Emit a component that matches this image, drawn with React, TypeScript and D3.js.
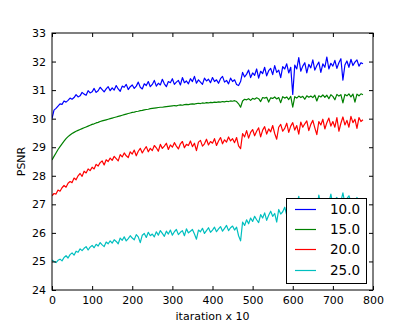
import React, { useEffect, useRef } from 'react';
import * as d3 from 'd3';

// one value every 5 iterations (x10), 0 .. 775
const iterStep = 5;

const psnr10 = [
  30.00, 30.30, 30.36, 30.44, 30.52, 30.50, 30.62, 30.58, 30.64, 30.72,
  30.68, 30.74, 30.84, 30.76, 30.80, 30.92, 30.86, 30.82, 30.98, 30.90,
  30.94, 31.06, 30.92, 30.98, 31.10, 31.02, 30.94, 31.04, 31.12, 30.98,
  31.08, 31.00, 31.16, 31.04, 30.96, 31.14, 31.10, 31.20, 31.02, 31.12,
  31.18, 31.06, 31.14, 31.28, 31.10, 31.04, 31.22, 31.16, 31.30, 31.12,
  31.20, 31.34, 31.14, 31.24, 31.18, 31.38, 31.22, 31.12, 31.30, 31.26,
  31.40, 31.20, 31.28, 31.34, 31.18, 31.44, 31.26, 31.32, 31.22, 31.40,
  31.30, 31.48, 31.24, 31.36, 31.28, 31.20, 31.42, 31.32, 31.38, 31.26,
  31.44, 31.30, 31.36, 31.24, 31.40, 31.48, 31.28, 31.34, 31.22, 31.42,
  31.30, 31.36, 31.20, 31.16, 31.30, 31.62, 31.46, 31.56, 31.70, 31.44,
  31.60, 31.52, 31.74, 31.42, 31.66, 31.58, 31.80, 31.50, 31.68, 31.76,
  31.54, 31.86, 31.62, 31.70, 31.44, 31.82, 31.74, 31.92, 31.60, 31.80,
  30.85, 31.88, 31.74, 32.14, 31.66, 31.84, 31.96, 31.60, 31.90, 31.78,
  32.06, 31.70, 31.86, 31.98, 31.62, 31.92, 31.80, 32.16, 31.74, 31.94,
  31.84, 32.04, 31.76, 31.96, 32.10, 31.35, 31.88, 32.02, 31.80, 32.08,
  31.86, 31.98, 32.06, 31.84, 31.96, 31.92,
];

const psnr15 = [
  28.55, 28.68, 28.80, 28.92, 29.02, 29.12, 29.21, 29.30, 29.37, 29.43,
  29.48, 29.52, 29.56, 29.59, 29.62, 29.65, 29.68, 29.71, 29.74, 29.77,
  29.80, 29.82, 29.85, 29.87, 29.90, 29.92, 29.94, 29.96, 29.98, 30.00,
  30.02, 30.04, 30.06, 30.08, 30.10, 30.12, 30.14, 30.16, 30.18, 30.20,
  30.22, 30.23, 30.25, 30.26, 30.28, 30.29, 30.31, 30.32, 30.33, 30.35,
  30.36, 30.37, 30.38, 30.39, 30.40, 30.40, 30.41, 30.42, 30.43, 30.44,
  30.45, 30.46, 30.45, 30.47, 30.48, 30.47, 30.49, 30.50, 30.49, 30.51,
  30.52, 30.51, 30.53, 30.54, 30.53, 30.55, 30.54, 30.56, 30.55, 30.57,
  30.56, 30.58, 30.57, 30.59, 30.58, 30.60, 30.59, 30.61, 30.60, 30.62,
  30.61, 30.63, 30.60, 30.52, 30.40, 30.62, 30.68, 30.66, 30.70, 30.64,
  30.71, 30.68, 30.73, 30.70, 30.60, 30.74, 30.72, 30.75, 30.58, 30.73,
  30.71, 30.76, 30.69, 30.74, 30.56, 30.77, 30.72, 30.76, 30.67, 30.78,
  30.40, 30.77, 30.72, 30.79, 30.74, 30.78, 30.68, 30.80, 30.75, 30.79,
  30.74, 30.82, 30.62, 30.80, 30.76, 30.83, 30.75, 30.82, 30.70, 30.84,
  30.78, 30.66, 30.85, 30.79, 30.84, 30.55, 30.85, 30.80, 30.87, 30.76,
  30.86, 30.58, 30.86, 30.80, 30.87, 30.84,
];

const psnr20 = [
  27.30, 27.38, 27.36, 27.50, 27.46, 27.58, 27.66, 27.60, 27.74, 27.80,
  27.76, 27.92, 27.86, 28.00, 28.08, 27.98, 28.16, 28.10, 28.24, 28.18,
  28.30, 28.24, 28.40, 28.34, 28.46, 28.52, 28.38, 28.56, 28.50, 28.62,
  28.54, 28.68, 28.60, 28.52, 28.74, 28.66, 28.80, 28.70, 28.64, 28.84,
  28.76, 28.90, 28.70, 28.86, 28.96, 28.80, 28.92, 29.02, 28.84, 28.96,
  28.88, 29.06, 28.98, 28.86, 29.10, 28.96, 29.04, 29.14, 28.92, 29.08,
  29.00, 29.16, 29.04, 28.94, 29.12, 29.20, 28.98, 29.10, 29.06, 29.22,
  29.02, 29.14, 28.88, 29.18, 29.24, 29.04, 29.12, 29.28, 29.08, 29.20,
  29.14, 29.30, 29.06, 29.22, 29.34, 29.12, 29.26, 29.18, 29.36, 29.22,
  29.30, 29.16, 29.34, 29.05, 28.95, 29.48, 29.36, 29.58, 29.32, 29.52,
  29.62, 29.40, 29.56, 29.68, 29.36, 29.60, 29.72, 29.46, 29.64, 29.54,
  29.76, 29.48, 29.28, 29.70, 29.80, 29.56, 29.66, 29.84, 29.52, 29.74,
  29.86, 29.60, 29.76, 29.46, 29.88, 29.70, 29.82, 29.92, 29.58, 29.80,
  29.94, 29.68, 29.44, 29.90, 29.78, 29.98, 29.64, 29.86, 30.02, 29.74,
  29.90, 29.70, 30.04, 29.56, 29.84, 30.06, 29.78, 29.94, 29.70, 30.08,
  29.86, 29.98, 29.66, 30.04, 29.90, 29.96,
];

const psnr25 = [
  25.05, 25.00, 24.96, 25.04, 25.08, 25.02, 25.14, 25.20, 25.12, 25.24,
  25.30, 25.22, 25.36, 25.32, 25.44, 25.38, 25.46, 25.52, 25.40, 25.50,
  25.56, 25.48, 25.60, 25.54, 25.66, 25.58, 25.52, 25.68, 25.62, 25.72,
  25.64, 25.76, 25.70, 25.62, 25.82, 25.74, 25.86, 25.72, 25.80, 25.90,
  25.82, 25.76, 25.94, 25.86, 25.66, 25.92, 25.98, 25.84, 26.02, 25.90,
  25.96, 25.86, 26.04, 25.92, 26.08, 25.98, 25.88, 26.06, 25.96, 26.10,
  25.92, 26.04, 26.12, 25.94, 26.02, 26.08, 25.90, 26.14, 26.00, 26.06,
  26.12, 25.96, 25.78, 26.10, 26.04, 26.16, 25.98, 26.08, 26.18, 26.02,
  26.10, 26.20, 26.04, 26.14, 26.22, 26.06, 26.16, 26.26, 26.08, 26.18,
  26.24, 26.10, 26.20, 25.90, 25.72, 26.38, 26.26, 26.46, 26.32, 26.52,
  26.40, 26.58, 26.46, 26.36, 26.64, 26.52, 26.70, 26.44, 26.62, 26.76,
  26.58, 26.68, 26.38, 26.82, 26.66, 26.74, 26.90, 26.62, 26.84, 26.96,
  26.72, 26.88, 27.00, 27.28, 26.80, 26.94, 27.06, 26.78, 27.12, 26.90,
  27.02, 27.14, 26.86, 27.32, 26.98, 27.10, 27.20, 26.90, 27.06, 27.36,
  26.96, 27.16, 27.24, 26.94, 27.10, 27.40, 27.02, 27.20, 27.30, 27.08,
  27.18, 27.04, 27.24, 27.12, 27.06, 27.10,
];

const seriesNames = ['10.0', '15.0', '20.0', '25.0'];
const seriesColors = ['#0000ff', '#008000', '#ff0000', '#00bfbf'];
const xTicks = [0, 100, 200, 300, 400, 500, 600, 700, 800];
const yTicks = [24, 25, 26, 27, 28, 29, 30, 31, 32, 33];

export default function App() {
  const ref = useRef<SVGSVGElement>(null);

  useEffect(() => {
    const svg = d3.select(ref.current);
    svg.selectAll('*').remove();

    const left = 52, top = 33, right = 373, bottom = 290;
    const font = '"DejaVu Sans", sans-serif';

    const x = d3.scaleLinear().domain([0, 800]).range([left, right]);
    const y = d3.scaleLinear().domain([24, 33]).range([bottom, top]);

    svg.append('defs').append('clipPath').attr('id', 'plot-clip')
      .append('rect')
      .attr('x', left).attr('y', top)
      .attr('width', right - left).attr('height', bottom - top);

    const allSeries = [psnr10, psnr15, psnr20, psnr25];
    const line = d3.line<number>()
      .x((d, i) => x(i * iterStep))
      .y((d) => y(d));

    const lines = svg.append('g').attr('clip-path', 'url(#plot-clip)');
    allSeries.forEach((s, k) => {
      lines.append('path')
        .datum(s)
        .attr('d', line)
        .attr('fill', 'none')
        .attr('stroke', seriesColors[k])
        .attr('stroke-width', 1.2)
        .attr('stroke-linejoin', 'round');
    });

    // ticks point inward on all four sides, matplotlib classic style
    const styleAxis = (g: any) => {
      g.select('.domain').remove();
      g.selectAll('line').attr('stroke', '#000');
      g.selectAll('text').attr('font-family', font).attr('font-size', 11).attr('fill', '#000');
    };

    svg.append('g')
      .attr('transform', `translate(0,${bottom})`)
      .call(d3.axisBottom(x).tickValues(xTicks).tickSize(-4).tickPadding(6))
      .call(styleAxis);
    svg.append('g')
      .attr('transform', `translate(0,${top})`)
      .call(d3.axisTop(x).tickValues(xTicks).tickSize(-4).tickFormat(() => ''))
      .call(styleAxis);
    svg.append('g')
      .attr('transform', `translate(${left},0)`)
      .call(d3.axisLeft(y).tickValues(yTicks).tickSize(-4).tickPadding(6))
      .call(styleAxis);
    svg.append('g')
      .attr('transform', `translate(${right},0)`)
      .call(d3.axisRight(y).tickValues(yTicks).tickSize(-4).tickFormat(() => ''))
      .call(styleAxis);

    svg.append('rect')
      .attr('x', left).attr('y', top)
      .attr('width', right - left).attr('height', bottom - top)
      .attr('fill', 'none').attr('stroke', '#000').attr('stroke-width', 1);

    svg.append('text')
      .attr('x', (left + right) / 2).attr('y', 320)
      .attr('text-anchor', 'middle')
      .attr('font-family', font).attr('font-size', 11)
      .text('itaration x 10');

    svg.append('text')
      .attr('transform', `translate(25,${(top + bottom) / 2}) rotate(-90)`)
      .attr('text-anchor', 'middle')
      .attr('font-family', font).attr('font-size', 11)
      .text('PSNR');

    // legend, lower right
    const legend = svg.append('g');
    legend.append('rect')
      .attr('x', 286.5).attr('y', 198.5)
      .attr('width', 80).attr('height', 85)
      .attr('fill', '#fff').attr('stroke', '#000').attr('stroke-width', 1);
    seriesNames.forEach((name, k) => {
      const ly = Math.round(209 + k * 20.2) + 0.5;
      legend.append('line')
        .attr('x1', 295).attr('x2', 316)
        .attr('y1', ly).attr('y2', ly)
        .attr('stroke', seriesColors[k]).attr('stroke-width', 1.2);
      legend.append('text')
        .attr('x', 330).attr('y', ly)
        .attr('dy', '0.36em')
        .attr('font-family', font).attr('font-size', 13.5)
        .text(name);
    });
  }, []);

  return (
    <svg
      ref={ref}
      width={415}
      height={332}
      style={{ position: 'absolute', left: 0, top: 0, background: '#fff' }}
    />
  );
}
